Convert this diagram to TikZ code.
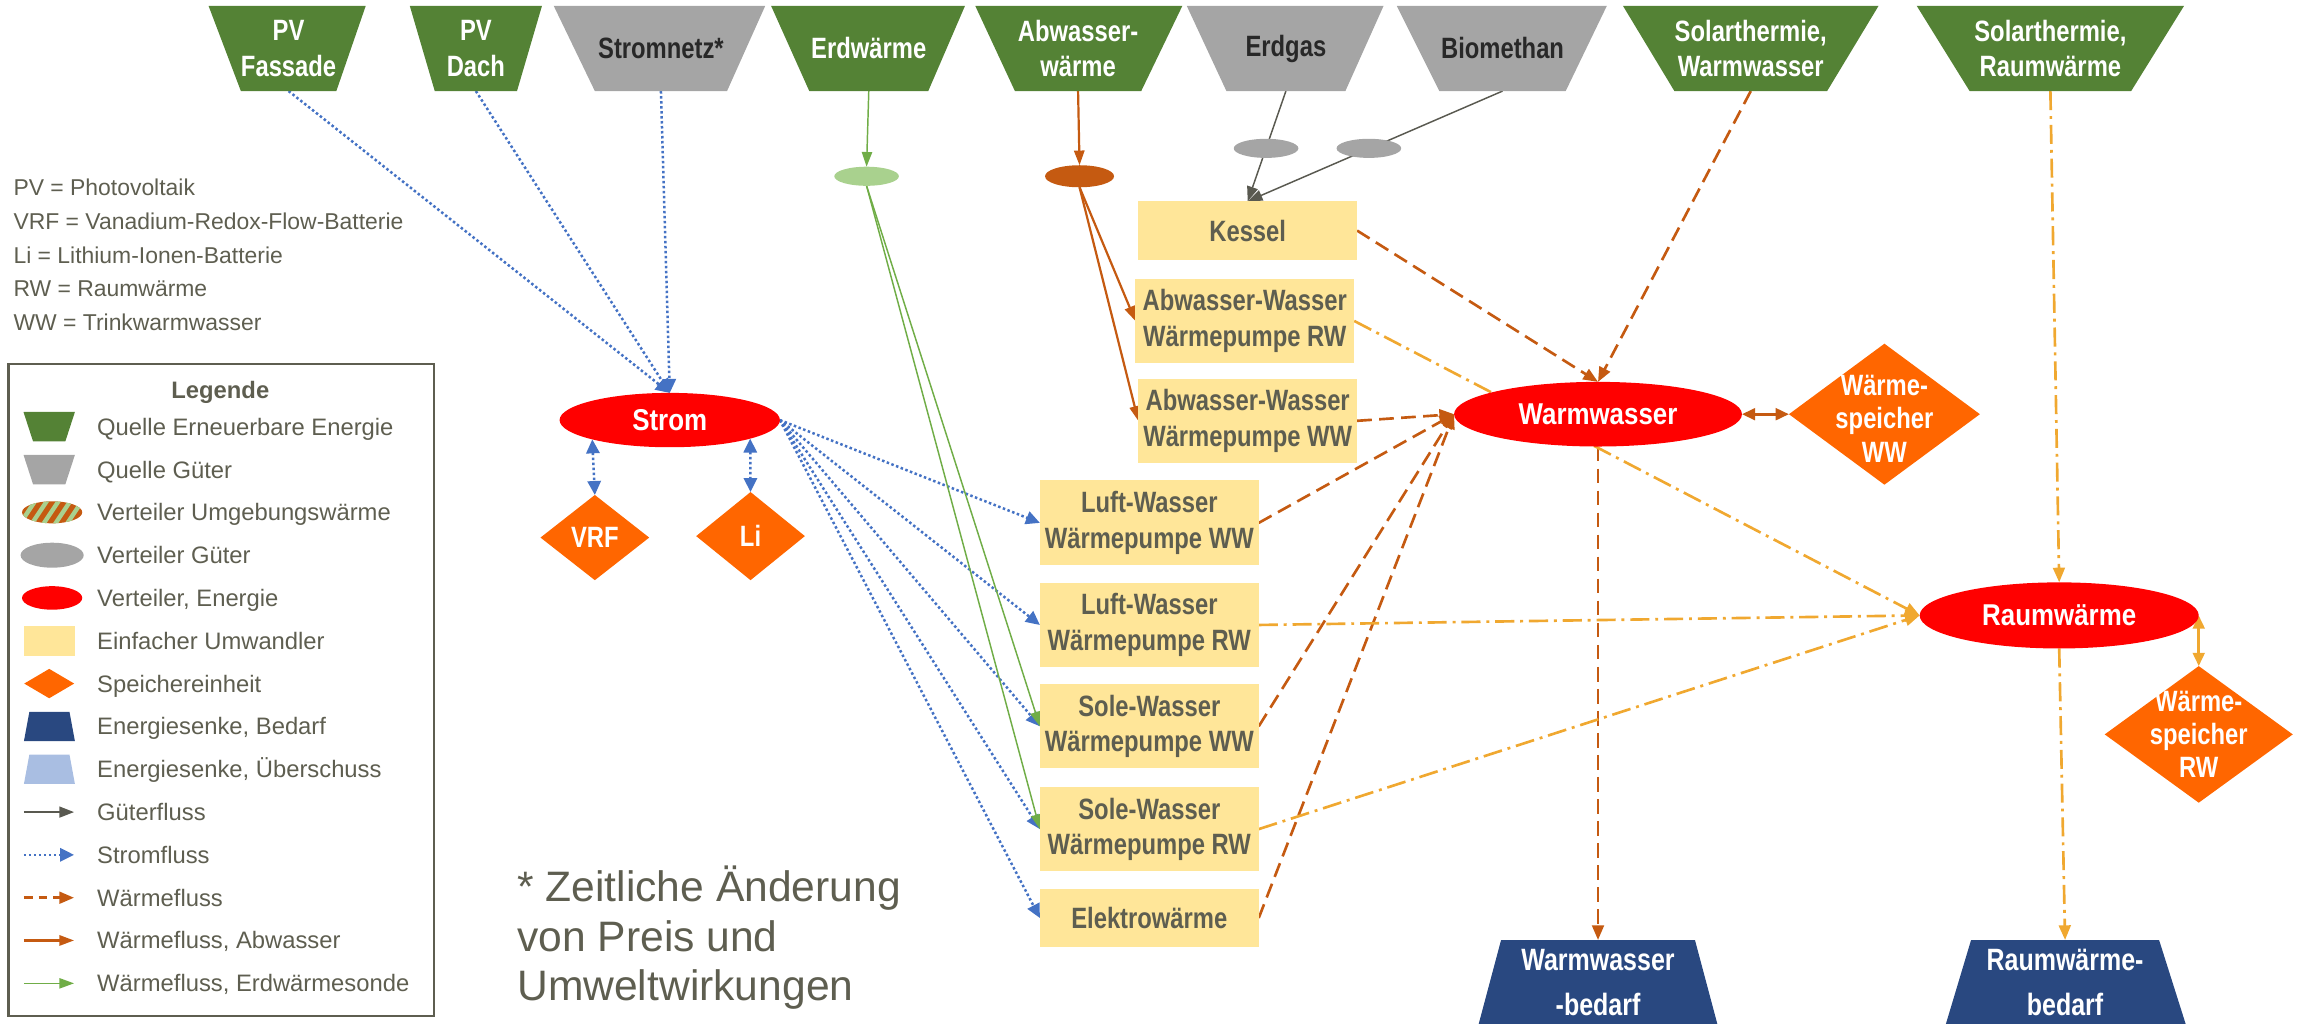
\documentclass[tikz,border=0pt]{standalone}
\usepackage{fontspec}
\setmainfont{Liberation Sans}
\newfontfamily\nb[FakeStretch=0.81]{Liberation Sans}
\newfontfamily\nc[FakeStretch=0.86]{Liberation Sans}
\usetikzlibrary{arrows.meta,shapes.geometric,backgrounds}
\definecolor{srcgreen}{RGB}{84,130,53}
\definecolor{srcgray}{RGB}{165,165,165}
\definecolor{convy}{RGB}{255,230,153}
\definecolor{txtgray}{RGB}{94,94,80}
\definecolor{storor}{RGB}{255,102,0}
\definecolor{distred}{RGB}{255,0,0}
\definecolor{sinkblue}{RGB}{41,72,128}
\definecolor{sinklight}{RGB}{169,190,226}
\definecolor{flowblue}{RGB}{68,114,196}
\definecolor{heat}{RGB}{197,90,17}
\definecolor{rwgold}{RGB}{240,168,48}
\definecolor{geogreen}{RGB}{112,173,71}
\definecolor{geolight}{RGB}{169,209,142}
\definecolor{goods}{RGB}{89,89,80}
\definecolor{gastext}{RGB}{40,40,40}
\tikzset{
  srctext/.style={inner sep=0pt, align=center, font=\nb\bfseries\fontsize{20}{24}\selectfont},
  sinktext/.style={inner sep=0pt, align=center, text=white, font=\nb\bfseries\fontsize{21}{31}\selectfont},
  conv/.style={rectangle, fill=convy, minimum width=149pt, inner sep=0pt, outer sep=0pt, text=txtgray, align=center, font=\nb\bfseries\fontsize{20}{24}\selectfont},
  distr/.style={ellipse, fill=distred, inner sep=0pt, outer sep=0pt, text=white, font=\nc\bfseries\fontsize{20.5}{24}\selectfont},
  smallell/.style={ellipse, inner sep=0pt, outer sep=0pt},
  store/.style={diamond, fill=storor, inner sep=0pt, outer sep=0pt},
  storetext/.style={inner sep=0pt, align=center, text=white, font=\nb\bfseries\fontsize{20}{22.7}\selectfont},
  legtext/.style={anchor=base west, inner sep=0pt, text=txtgray, font=\fontsize{16.2}{19}\selectfont},
  abbrtext/.style={anchor=base west, inner sep=0pt, text=txtgray, font=\fontsize{15.6}{19}\selectfont},
  foottext/.style={anchor=base west, inner sep=0pt, text=txtgray, font=\fontsize{29}{34}\selectfont},
  goodsflow/.style={draw=goods, line width=1pt, -{Triangle[length=10pt,width=7.5pt]}},
  powerflow/.style={draw=flowblue, line width=1.7pt, dash pattern=on 1.7pt off 1.7pt, -{Triangle[length=9.5pt,width=9pt]}},
  powerboth/.style={draw=flowblue, line width=1.7pt, dash pattern=on 1.7pt off 1.7pt, {Triangle[length=9.5pt,width=9pt]}-{Triangle[length=9.5pt,width=9pt]}},
  heatflow/.style={draw=heat, line width=1.8pt, dash pattern=on 10pt off 5pt, -{Triangle[length=10pt,width=8pt]}},
  heatboth/.style={draw=heat, line width=1.8pt, {Triangle[length=9pt,width=8pt]}-{Triangle[length=9pt,width=8pt]}},
  rwflow/.style={draw=rwgold, line width=1.8pt, dash pattern=on 13pt off 4pt on 2pt off 4pt, -{Triangle[length=10pt,width=8pt]}},
  rwboth/.style={draw=rwgold, line width=1.8pt, {Triangle[length=9pt,width=8pt]}-{Triangle[length=9pt,width=8pt]}},
  sewflow/.style={draw=heat, line width=1.5pt, -{Triangle[length=10pt,width=7pt]}},
  geoflow/.style={draw=geogreen, line width=1pt, -{Triangle[length=10pt,width=7pt]}}
}
% source: name, x left top, x right top, x left bottom, x right bottom, fill, text colour, text
\newcommand\mysrc[8]{%
  \fill[#6] (#2,4) -- (#3,4) -- (#5,62) -- (#4,62) -- cycle;
  \node[srctext, text=#7] (#1) at ({(#4+#5)/2},33) {#8};
  \coordinate (#1-s) at ({(#4+#5)/2},62);
}
% sink: name, x left top, x right top, x left bottom, x right bottom, text
\newcommand\mysink[6]{%
  \fill[sinkblue] (#2,640) -- (#3,640) -- (#5,700) -- (#4,700) -- cycle;
  \node[sinktext] (#1) at ({(#2+#3)/2},669) {#6};
  \coordinate (#1-n) at ({(#2+#3)/2},640);
}
\begin{document}
\begin{tikzpicture}[x=1pt,y=-1pt]
\useasboundingbox (0,0) rectangle (1568,697);

% ---------------- sources
\mysrc{fas}{142}{249}{164}{229}{srcgreen}{white}{PV\\Fassade}
\mysrc{dach}{279}{369}{296}{352}{srcgreen}{white}{PV\\Dach}
\mysrc{netz}{377}{521}{405}{495}{srcgray}{gastext}{Stromnetz*}
\mysrc{erd}{525}{657}{551}{632}{srcgreen}{white}{Erdwärme}
\mysrc{abw}{664}{805}{691}{777}{srcgreen}{white}{Abwasser-\\wärme}
\mysrc{gas}{808}{942}{835}{916}{srcgray}{gastext}{Erdgas}
\mysrc{bio}{951}{1094}{980}{1066}{srcgray}{gastext}{Biomethan}
\mysrc{sww}{1105}{1279}{1140}{1244}{srcgreen}{white}{Solarthermie,\\Warmwasser}
\mysrc{srw}{1305}{1487}{1341}{1451}{srcgreen}{white}{Solarthermie,\\Raumwärme}

% ---------------- converters
\node[conv, minimum height=40pt] (kessel) at (849.5,157) {Kessel};
\node[conv, minimum height=57pt] (awrw) at (847.5,218.5) {Abwasser-Wasser\\Wärmepumpe RW};
\node[conv, minimum height=57pt] (awww) at (849.5,286.5) {Abwasser-Wasser\\Wärmepumpe WW};
\node[conv, minimum height=58pt] (lwww) at (782.5,356) {Luft-Wasser\\Wärmepumpe WW};
\node[conv, minimum height=57pt] (lwrw) at (782.5,425.5) {Luft-Wasser\\Wärmepumpe RW};
\node[conv, minimum height=57pt] (swww) at (782.5,494.5) {Sole-Wasser\\Wärmepumpe WW};
\node[conv, minimum height=57pt] (swrw) at (782.5,564.5) {Sole-Wasser\\Wärmepumpe RW};
\node[conv, minimum height=40pt] (elek) at (782.5,625) {Elektrowärme};

% ---------------- distributors
\node[distr, minimum width=150pt, minimum height=37pt] (strom) at (456,286) {Strom};
\node[distr, minimum width=196pt, minimum height=44pt] (ww) at (1088,282) {Warmwasser};
\node[distr, minimum width=190pt, minimum height=45pt] (rw) at (1402,419) {Raumwärme};
\node[smallell, fill=geolight, minimum width=44pt, minimum height=13pt] (erdv) at (590,120) {};
\node[smallell, fill=heat, minimum width=47pt, minimum height=15pt] (abwv) at (735,120) {};
\node[smallell, fill=srcgray, minimum width=44pt, minimum height=13pt] (gasv1) at (862,101) {};
\node[smallell, fill=srcgray, minimum width=44pt, minimum height=13pt] (gasv2) at (932,101) {};

% ---------------- storages
\node[store, minimum width=74pt, minimum height=58pt] (vrf) at (405,366) {};
\node[storetext] (vrf-t) at (vrf.center) {VRF};
\node[store, minimum width=74pt, minimum height=60pt] (li) at (511,365) {};
\node[storetext] (li-t) at (li.center) {Li};
\node[store, minimum width=130pt, minimum height=96pt] (wsww) at (1283,282) {};
\node[storetext] (wsww-t) at ([yshift=-3pt]wsww.center) {Wärme-\\speicher\\WW};
\node[store, minimum width=128pt, minimum height=93pt] (wsrw) at (1497,500) {};
\node[storetext] (wsrw-t) at (wsrw.center) {Wärme-\\speicher\\RW};

% ---------------- sinks
\mysink{wwb}{1022}{1154}{1006}{1170}{Warmwasser\\-bedarf}
\mysink{rwb}{1342}{1470}{1324}{1489}{Raumwärme-\\bedarf}

% ---------------- connectors
\begin{pgfonlayer}{background}
\draw[powerflow] (fas-s) -- (strom.north);
\draw[powerflow] (dach-s) -- (strom.north);
\draw[powerflow] (netz-s) -- (strom.north);
\foreach \t in {lwww,lwrw,swww,swrw,elek} \draw[powerflow] (strom.east) -- (\t.west);
\draw[powerboth] (strom.194) -- (vrf.north);
\draw[powerboth] (strom.347) -- (li.north);
\draw[geoflow] (erd-s) -- (erdv.north);
\draw[geoflow] (erdv.south) -- (swww.west);
\draw[geoflow] (erdv.south) -- (swrw.west);
\draw[sewflow] (abw-s) -- (abwv.north);
\draw[sewflow] (abwv.south) -- (awrw.west);
\draw[sewflow] (abwv.south) -- (awww.west);
\draw[goodsflow] (gas-s) -- (kessel.north);
\draw[goodsflow] (bio-s) -- (kessel.north);
\draw[heatflow] (kessel.east) -- (ww.north);
\draw[heatflow] (sww-s) -- (ww.north);
\foreach \t in {awww,lwww,swww,elek} \draw[heatflow] (\t.east) -- (ww.west);
\draw[heatboth] (ww.east) -- (wsww.west);
\draw[heatflow] (ww.south) -- (wwb-n);
\foreach \t in {awrw,lwrw,swrw} \draw[rwflow] (\t.east) -- (rw.west);
\draw[rwflow] (srw-s) -- (rw.north);
\draw[rwboth] (rw.east) -- (wsrw.north);
\draw[rwflow] (rw.south) -- (rwb-n);
\end{pgfonlayer}

% ---------------- abbreviations
\node[abbrtext] (ab1) at (9,133.1) {PV = Photovoltaik};
\node[abbrtext] (ab2) at (9,156.1) {VRF = Vanadium-Redox-Flow-Batterie};
\node[abbrtext] (ab3) at (9,179.1) {Li = Lithium-Ionen-Batterie};
\node[abbrtext] (ab4) at (9,202.1) {RW = Raumwärme};
\node[abbrtext] (ab5) at (9,225.1) {WW = Trinkwarmwasser};

% ---------------- footnote
\node[foottext] (fn1) at (352,613.5) {* Zeitliche Änderung};
\node[foottext] (fn2) at (352,647.5) {von Preis und};
\node[foottext] (fn3) at (352,681.5) {Umweltwirkungen};

% ---------------- legend
\node[draw=txtgray, line width=1.5pt, minimum width=290pt, minimum height=444pt, inner sep=0pt, anchor=north west] (legbox) at (5,247) {};
\node[inner sep=0pt, text=txtgray, font=\bfseries\fontsize{16.2}{19}\selectfont] (legtitle) at (150,267) {Legende};
\fill[srcgreen] (16,280.5) -- (51,280.5) -- (44.5,300.5) -- (22.5,300.5) -- cycle;
\fill[srcgray] (16,309.7) -- (51,309.7) -- (44.5,329.7) -- (22.5,329.7) -- cycle;
\begin{scope}
  \clip (35.5,348.8) ellipse [x radius=20.5pt, y radius=7.5pt];
  \fill[heat] (10,335) rectangle (60,365);
  \foreach \i in {-40,-32,...,60} \draw[geolight, line width=3pt] (\i,365) -- (\i+20,335);
\end{scope}
\fill[srcgray] (35.5,378) ellipse [x radius=21.5pt, y radius=8.5pt];
\fill[distred] (35.5,407.1) ellipse [x radius=20.5pt, y radius=8pt];
\fill[convy] (16.3,426.3) rectangle (51,446.3);
\fill[storor] (16.5,465.4) -- (33.5,455.4) -- (50.5,465.4) -- (33.5,475.4) -- cycle;
\fill[sinkblue] (20,484.6) -- (47.3,484.6) -- (51,504.6) -- (16.3,504.6) -- cycle;
\fill[sinklight] (20,513.7) -- (47.3,513.7) -- (51,533.7) -- (16.3,533.7) -- cycle;
\draw[goodsflow] (16.3,552.9) -- (50.4,552.9);
\draw[powerflow] (16.3,582.0) -- (50.4,582.0);
\draw[heatflow, dash pattern=on 6pt off 4pt] (16.3,611.2) -- (50.4,611.2);
\draw[sewflow] (16.3,640.3) -- (50.4,640.3);
\draw[geoflow] (16.3,669.5) -- (50.4,669.5);
\node[legtext] (lt0) at (66,296.3) {Quelle Erneuerbare Energie};
\node[legtext] (lt1) at (66,325.5) {Quelle Güter};
\node[legtext] (lt2) at (66,354.6) {Verteiler Umgebungswärme};
\node[legtext] (lt3) at (66,383.8) {Verteiler Güter};
\node[legtext] (lt4) at (66,412.9) {Verteiler, Energie};
\node[legtext] (lt5) at (66,442.1) {Einfacher Umwandler};
\node[legtext] (lt6) at (66,471.2) {Speichereinheit};
\node[legtext] (lt7) at (66,500.4) {Energiesenke, Bedarf};
\node[legtext] (lt8) at (66,529.5) {Energiesenke, Überschuss};
\node[legtext] (lt9) at (66,558.7) {Güterfluss};
\node[legtext] (lt10) at (66,587.8) {Stromfluss};
\node[legtext] (lt11) at (66,617.0) {Wärmefluss};
\node[legtext] (lt12) at (66,646.1) {Wärmefluss, Abwasser};
\node[legtext] (lt13) at (66,675.3) {Wärmefluss, Erdwärmesonde};
\end{tikzpicture}
\end{document}
